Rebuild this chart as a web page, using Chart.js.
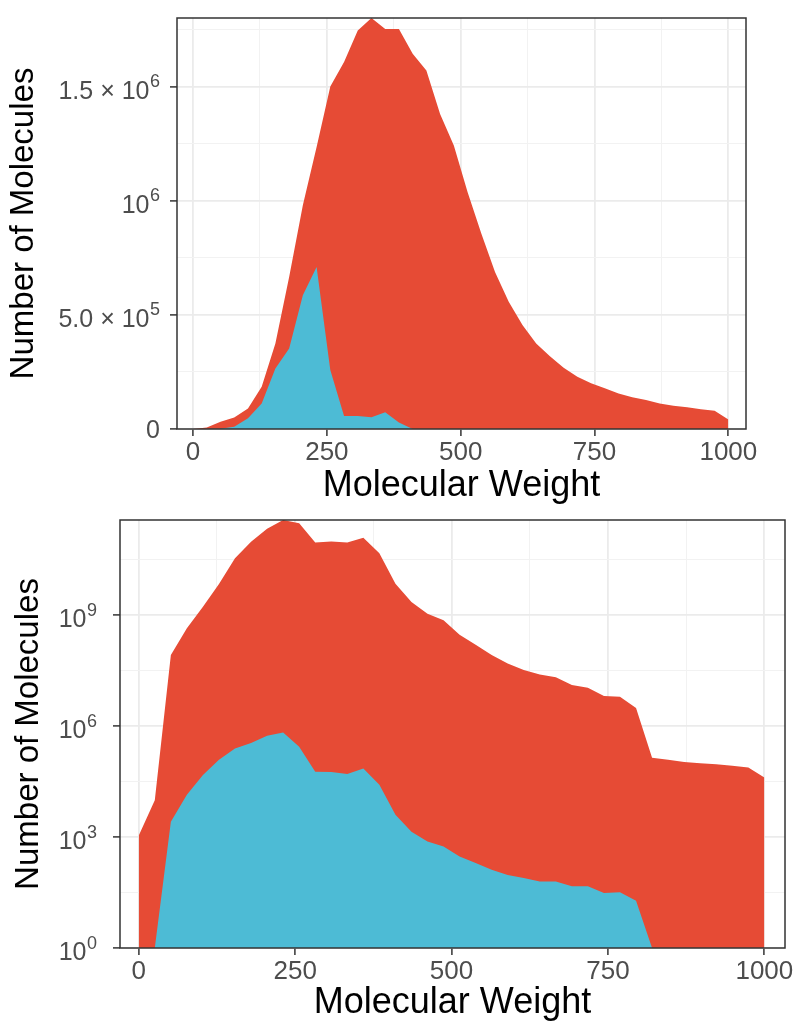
<!DOCTYPE html>
<html>
<head>
<meta charset="utf-8">
<script src="https://cdn.jsdelivr.net/npm/chart.js@4.4.1/dist/chart.umd.min.js"></script>
<style>
  body { margin: 0; background: #fff; }
  canvas { position: absolute; left: 0; }
  #linChart { top: 0; }
  #logChart { top: 504px; }
</style>
</head>
<body>
<canvas id="linChart" width="798" height="510"></canvas>
<canvas id="logChart" width="798" height="521"></canvas>
<script>
// molecular weight of each sample (same for both panels)
const molWeight = [0, 25.6, 51.3, 76.9, 102.6, 128.2, 153.8, 179.5, 205.1, 230.8,
  256.4, 282.1, 307.7, 333.3, 359.0, 384.6, 410.3, 435.9, 461.5, 487.2,
  512.8, 538.5, 564.1, 589.7, 615.4, 641.0, 666.7, 692.3, 717.9, 743.6,
  769.2, 794.9, 820.5, 846.2, 871.8, 897.4, 923.1, 948.7, 974.4, 1000];

// top panel, linear counts
const linRed = [0, 7e3, 3.2e4, 5e4, 9e4, 1.85e5, 3.75e5, 6.66e5, 9.8e5, 1.235e6,
  1.5e6, 1.607e6, 1.745e6, 1.8e6, 1.752e6, 1.752e6, 1.643e6, 1.57e6, 1.38e6, 1.242e6,
  1.038e6, 8.56e5, 6.88e5, 5.57e5, 4.55e5, 3.75e5, 3.19e5, 2.68e5, 2.29e5, 2.0e5,
  1.78e5, 1.56e5, 1.39e5, 1.27e5, 1.12e5, 1.02e5, 9.5e4, 8.6e4, 8.0e4, 4.2e4];
const linBlue = [0, 0, 1e3, 1e4, 4.7e4, 1.12e5, 2.65e5, 3.53e5, 5.86e5, 7.1e5,
  2.58e5, 5.7e4, 5.7e4, 5.1e4, 7.3e4, 2.8e4, 0, 0, 0, 0,
  0, 0, 0, 0, 0, 0, 0, 0, 0, 0,
  0, 0, 0, 0, 0, 0, 0, 0, 0, 0];

// bottom panel, log counts
const logRed = [1.1e3, 1.0e4, 8.5e7, 4.5e8, 1.7e9, 7.1e9, 3.5e10, 9.8e10, 2.2e11, 3.8e11,
  3.1e11, 9.3e10, 1.0e11, 9.3e10, 1.26e11, 4.8e10, 7.2e9, 2.3e9, 1.1e9, 7.4e8,
  3.0e8, 1.6e8, 8.5e7, 5.0e7, 3.3e7, 2.5e7, 2.1e7, 1.3e7, 1.1e7, 6.6e6,
  6.3e6, 3.1e6, 1.4e5, 1.23e5, 1.07e5, 1.0e5, 9.3e4, 8.5e4, 7.6e4, 4.1e4];
const logBlue = [1, 1, 2.6e3, 1.4e4, 4.8e4, 1.23e5, 2.5e5, 3.5e5, 5.5e5, 6.8e5,
  2.8e5, 5.9e4, 5.8e4, 5.1e4, 7.2e4, 2.6e4, 4.0e3, 1.4e3, 760, 560,
  300, 200, 130, 95, 78, 63, 63, 47, 47, 31,
  32, 19, 1, 1, 1, 1, 1, 1, 1, 1];

// ticks (empty label = minor grid line, "^" = superscript)
const xTicks = [0, 125, 250, 375, 500, 625, 750, 875, 1000];
const xTickLabels = ['0', '', '250', '', '500', '', '750', '', '1000'];
const linTicks = [0, 250000, 500000, 750000, 1000000, 1250000, 1500000, 1750000];
const linTickLabels = ['0', '', '5.0 × 10^5', '', '10^6', '', '1.5 × 10^6', ''];
const logTicks = [1, 31.6, 1000, 31600, 1e6, 3.16e7, 1e9, 3.16e10];
const logTickLabels = ['10^0', '', '10^3', '', '10^6', '', '10^9', ''];

const red = '#E64B35';
const blue = '#4DBBD5';
const family = "'Liberation Sans', Arial, sans-serif";
Chart.defaults.font.family = family;

const panelBox = {
  id: 'panelBox',
  afterDraw(chart) {
    const { ctx, chartArea: a } = chart;
    ctx.save();
    ctx.strokeStyle = '#333333';
    ctx.lineWidth = 1.5;
    ctx.strokeRect(a.left, a.top, a.right - a.left, a.bottom - a.top);
    ctx.restore();
  }
};

// y tick labels with a real superscript exponent
const expLabels = {
  id: 'expLabels',
  afterDraw(chart, args, opts) {
    const scale = chart.scales.y;
    const ctx = chart.ctx;
    const right = chart.chartArea.left - opts.gap;
    ctx.save();
    ctx.fillStyle = '#4D4D4D';
    ctx.textAlign = 'right';
    ctx.textBaseline = 'alphabetic';
    opts.ticks.forEach((v, i) => {
      const label = opts.labels[i];
      if (!label) return;
      const y = scale.getPixelForValue(v);
      const parts = label.split('^');
      let x = right;
      if (parts.length > 1) {
        ctx.font = '18px ' + family;
        ctx.fillText(parts[1], x, y + 0.5);
        x -= ctx.measureText(parts[1]).width + 0.5;
        ctx.font = '25px ' + family;
        ctx.fillText(parts[0], x, y + 12);
      } else {
        ctx.font = '25px ' + family;
        ctx.fillText(parts[0], x, y + 9);
      }
    });
    ctx.restore();
  }
};

function points(ys) {
  return molWeight.map((x, i) => ({ x: x, y: ys[i] }));
}

function gridFor(labels) {
  return {
    color: (c) => labels[c.index] === '' ? '#F2F2F2' : '#EBEBEB',
    lineWidth: (c) => labels[c.index] === '' ? 1 : 1.8,
    tickColor: (c) => labels[c.index] === '' ? 'rgba(0,0,0,0)' : '#333333',
    tickWidth: 1.5,
    tickLength: 7
  };
}

function makeChart(id, cfg) {
  return new Chart(document.getElementById(id), {
    type: 'line',
    data: {
      datasets: [
        { data: points(cfg.red), backgroundColor: red, borderColor: 'rgba(0,0,0,0)', fill: cfg.fill, order: 2 },
        { data: points(cfg.blue), backgroundColor: blue, borderColor: 'rgba(0,0,0,0)', fill: cfg.fill, order: 1 }
      ]
    },
    options: {
      responsive: false,
      animation: false,
      elements: { point: { radius: 0 }, line: { borderWidth: 0, tension: 0 } },
      layout: { padding: cfg.padding },
      plugins: {
        legend: { display: false },
        tooltip: { enabled: false },
        expLabels: { ticks: cfg.yTicks, labels: cfg.yLabels, gap: cfg.labelGap }
      },
      scales: {
        x: {
          type: 'linear',
          min: -30,
          max: 1033,
          bounds: 'data',
          afterBuildTicks: (s) => { s.ticks = xTicks.map(v => ({ value: v })); },
          afterFit: (s) => { s.height = cfg.xHeight; s.paddingLeft = 0; s.paddingRight = 0; },
          border: { display: false },
          grid: gridFor(xTickLabels),
          ticks: {
            color: '#4D4D4D', font: { size: 26 }, padding: 1,
            maxRotation: 0, autoSkip: false,
            callback: (v, i) => xTickLabels[i]
          },
          title: {
            display: true, text: 'Molecular Weight', color: '#000000',
            font: { size: 36 }, padding: { top: 0, bottom: cfg.xTitlePad }
          }
        },
        y: {
          type: cfg.yType,
          min: cfg.yMin,
          max: cfg.yMax,
          afterBuildTicks: (s) => { s.ticks = cfg.yTicks.map(v => ({ value: v })); },
          afterFit: (s) => { s.width = cfg.yWidth; s.paddingTop = 0; s.paddingBottom = 0; },
          border: { display: false },
          grid: gridFor(cfg.yLabels),
          ticks: { display: false },
          title: {
            display: true, text: 'Number of Molecules', color: '#000000',
            font: { size: 33 }, padding: { top: cfg.yTitlePad, bottom: 0 }
          }
        }
      }
    },
    plugins: [panelBox, expLabels]
  });
}

makeChart('linChart', {
  red: linRed, blue: linBlue, fill: 'origin',
  padding: { left: 0, top: 18, right: 52, bottom: 0 },
  xHeight: 81, xTitlePad: 2,
  yType: 'linear', yMin: 0, yMax: 1800000,
  yTicks: linTicks, yLabels: linTickLabels,
  yWidth: 177, labelGap: 17, yTitlePad: 4
});

makeChart('logChart', {
  red: logRed, blue: logBlue, fill: 'start',
  padding: { left: 0, top: 16, right: 13, bottom: 0 },
  xHeight: 77, xTitlePad: 0,
  yType: 'logarithmic', yMin: 1, yMax: 3.8e11,
  yTicks: logTicks, yLabels: logTickLabels,
  yWidth: 120, labelGap: 23, yTitlePad: 9
});
</script>
</body>
</html>
